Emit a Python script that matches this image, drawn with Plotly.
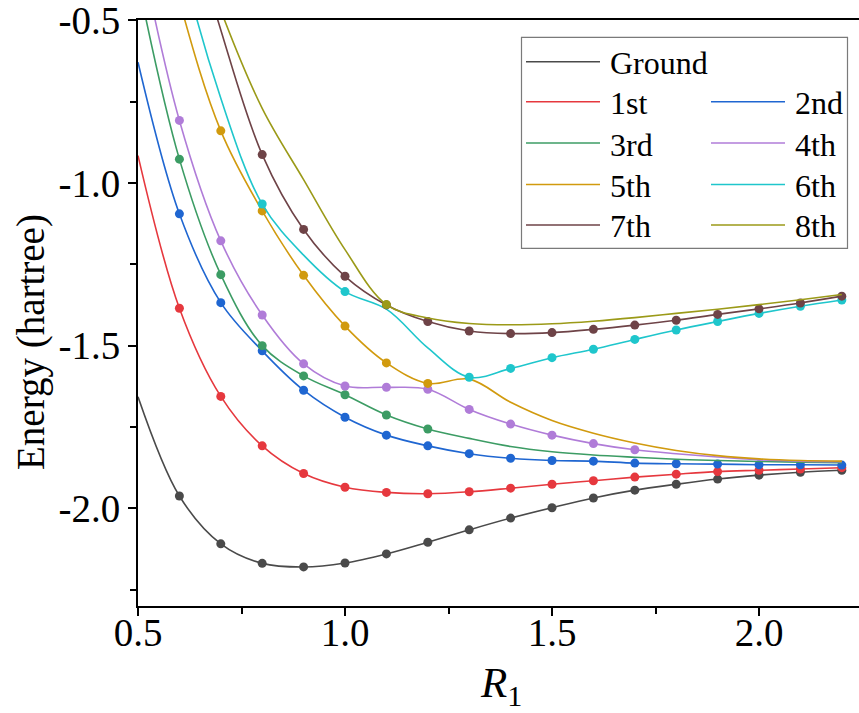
import plotly.graph_objects as go

# Bond length grid (R1) and state energies in hartree
R = [0.5, 0.6, 0.7, 0.8, 0.9, 1.0, 1.1, 1.2, 1.3, 1.4, 1.5, 1.6, 1.7, 1.8, 1.9, 2.0, 2.1, 2.2]

ground = [-1.657, -1.962, -2.109, -2.169, -2.180, -2.168, -2.140, -2.104, -2.066,
          -2.030, -1.998, -1.968, -1.944, -1.926, -1.910, -1.898, -1.889, -1.883]
first = [-0.916, -1.385, -1.656, -1.808, -1.893, -1.935, -1.951, -1.955, -1.949,
         -1.938, -1.926, -1.915, -1.904, -1.895, -1.887, -1.883, -1.879, -1.875]
second = [-0.629, -1.095, -1.368, -1.516, -1.637, -1.720, -1.775, -1.808, -1.832,
          -1.846, -1.853, -1.855, -1.861, -1.863, -1.864, -1.866, -1.866, -1.867]
third = [-0.38, -0.927, -1.282, -1.500, -1.593, -1.651, -1.713, -1.756, -1.785,
         -1.810, -1.826, -1.836, -1.843, -1.849, -1.853, -1.856, -1.858, -1.860]
fourth = [-0.25, -0.808, -1.178, -1.406, -1.556, -1.624, -1.628, -1.634, -1.696,
          -1.741, -1.775, -1.801, -1.820, -1.832, -1.842, -1.851, -1.855, -1.857]
fifth = [0.10, -0.44, -0.840, -1.086, -1.284, -1.440, -1.553, -1.616, -1.603,
         -1.674, -1.730, -1.769, -1.799, -1.822, -1.838, -1.848, -1.853, -1.855]
sixth = [0.50, -0.28, -0.74, -1.065, -1.222, -1.334, -1.388, -1.507, -1.597,
         -1.570, -1.537, -1.511, -1.481, -1.452, -1.426, -1.401, -1.379, -1.360]
seventh = [0.60, -0.08, -0.53, -0.913, -1.143, -1.287, -1.375, -1.426, -1.455,
           -1.463, -1.460, -1.450, -1.437, -1.422, -1.404, -1.387, -1.369, -1.348]
eighth = [0.90, -0.10, -0.47, -0.771, -0.990, -1.205, -1.374, -1.415, -1.432,
          -1.436, -1.433, -1.425, -1.414, -1.401, -1.388, -1.374, -1.359, -1.343]

# Geometries at which each state was computed directly (shown as dots)
marked_ground = [0.6, 0.7, 0.8, 0.9, 1.0, 1.1, 1.2, 1.3, 1.4, 1.5, 1.6, 1.7, 1.8, 1.9, 2.0, 2.1, 2.2]
marked_first = marked_ground
marked_second = marked_ground
marked_third = [0.6, 0.7, 0.8, 0.9, 1.0, 1.1, 1.2]
marked_fourth = [0.6, 0.7, 0.8, 0.9, 1.0, 1.1, 1.2, 1.3, 1.4, 1.5, 1.6, 1.7]
marked_fifth = [0.7, 0.8, 0.9, 1.0, 1.1, 1.2]
marked_sixth = [0.8, 1.0, 1.3, 1.4, 1.5, 1.6, 1.7, 1.8, 1.9, 2.0, 2.1, 2.2]
marked_seventh = [0.8, 0.9, 1.0, 1.1, 1.2, 1.3, 1.4, 1.5, 1.6, 1.7, 1.8, 1.9, 2.0, 2.1, 2.2]
marked_eighth = [1.1]

names = ["Ground", "1st", "2nd", "3rd", "4th", "5th", "6th", "7th", "8th"]
energies = [ground, first, second, third, fourth, fifth, sixth, seventh, eighth]
marked = [marked_ground, marked_first, marked_second, marked_third, marked_fourth,
          marked_fifth, marked_sixth, marked_seventh, marked_eighth]
colors = ["#4a4a4a", "#e6383e", "#1f66d1", "#3c9c64", "#b07cd8",
          "#d19a0e", "#1fc6cc", "#6e4347", "#9b9a18"]

xtick_vals = [0.5, 1.0, 1.5, 2.0]
xtick_text = ["0.5", "1.0", "1.5", "2.0"]
ytick_vals = [-0.5, -1.0, -1.5, -2.0]
ytick_text = ["-0.5", "-1.0", "-1.5", "-2.0"]

# Page geometry (pixels)
W, H = 859, 713
L, T, B, Rm = 138, 20, 107, 0
PW, PH = W - L - Rm, H - T - B
XR = [0.5, 2.2415]
YR = [-2.3, -0.4995]

def px_x(p):
    return (p - L) / PW

def px_y(p):
    return 1 - (p - T) / PH

SERIF = "Liberation Serif"

fig = go.Figure()
for name, e, m, c in zip(names, energies, marked, colors):
    fig.add_trace(go.Scatter(
        x=R, y=e, mode="lines", name=name, showlegend=False,
        line=dict(color=c, width=1.6, shape="spline", smoothing=1.0),
        hoverinfo="skip",
    ))
    lookup = dict(zip(R, e))
    fig.add_trace(go.Scatter(
        x=m, y=[lookup[r] for r in m], mode="markers", showlegend=False,
        marker=dict(color=c, size=9, line=dict(width=0)),
        hoverinfo="skip",
    ))

axis_common = dict(
    showgrid=False, zeroline=False, showline=True, linecolor="black", linewidth=2,
    ticks="outside", ticklen=8, tickwidth=2, tickcolor="black",
    tickfont=dict(family=SERIF, size=39, color="black"),
    ticklabeloverflow="allow",
)

fig.update_xaxes(
    range=XR, tickmode="array", tickvals=xtick_vals, ticktext=xtick_text,
    mirror=True, ticklabelstandoff=-17,
    minor=dict(tick0=0.5, dtick=0.25, ticks="outside", ticklen=6, tickwidth=2, tickcolor="black"),
    **axis_common,
)
fig.update_yaxes(
    range=YR, tickmode="array", tickvals=ytick_vals, ticktext=ytick_text,
    mirror=False,
    minor=dict(tick0=-0.5, dtick=0.25, ticks="outside", ticklen=6, tickwidth=2, tickcolor="black"),
    **axis_common,
)

# Legend: framed box, "Ground" alone on the first row, the rest in two columns
box = dict(left=521.5, right=847.5, top=37.3, bottom=248.3)
row_y = [61.7, 101.7, 143.0, 184.5, 225.0]
col_x = [526.0, 711.0]
sym_len = 74
text_gap = 84
slots = [(0, 0), (1, 0), (1, 1), (2, 0), (2, 1), (3, 0), (3, 1), (4, 0), (4, 1)]

shapes = [dict(type="rect", xref="paper", yref="paper",
               x0=px_x(box["left"]), x1=px_x(box["right"]),
               y0=px_y(box["bottom"]), y1=px_y(box["top"]),
               line=dict(color="#7a7a7a", width=1.2), fillcolor="white", layer="above")]
annotations = []
for name, c, (r, k) in zip(names, colors, slots):
    x0 = col_x[k]
    y = row_y[r]
    shapes.append(dict(type="line", xref="paper", yref="paper",
                       x0=px_x(x0), x1=px_x(x0 + sym_len), y0=px_y(y), y1=px_y(y),
                       line=dict(color=c, width=1.6), layer="above"))
    annotations.append(dict(text=name, xref="paper", yref="paper",
                            x=px_x(x0 + text_gap - 2), y=px_y(y + 1.5),
                            xanchor="left", yanchor="middle", showarrow=False,
                            font=dict(family=SERIF, size=32, color="black")))

# Axis titles
annotations.append(dict(text="Energy (hartree)", xref="paper", yref="paper",
                        x=px_x(31), y=px_y(342), xanchor="center", yanchor="middle",
                        textangle=-90, showarrow=False,
                        font=dict(family=SERIF, size=39, color="black")))
annotations.append(dict(text="<i>R</i><sub>1</sub>", xref="paper", yref="paper",
                        x=px_x(501), y=px_y(686), xanchor="center", yanchor="middle",
                        showarrow=False,
                        font=dict(family=SERIF, size=43, color="black")))

fig.update_layout(
    width=W, height=H,
    margin=dict(l=L, r=Rm, t=T, b=B, pad=0),
    paper_bgcolor="white", plot_bgcolor="white",
    showlegend=False,
    shapes=shapes,
    annotations=annotations,
)

fig.write_html("out.html")
